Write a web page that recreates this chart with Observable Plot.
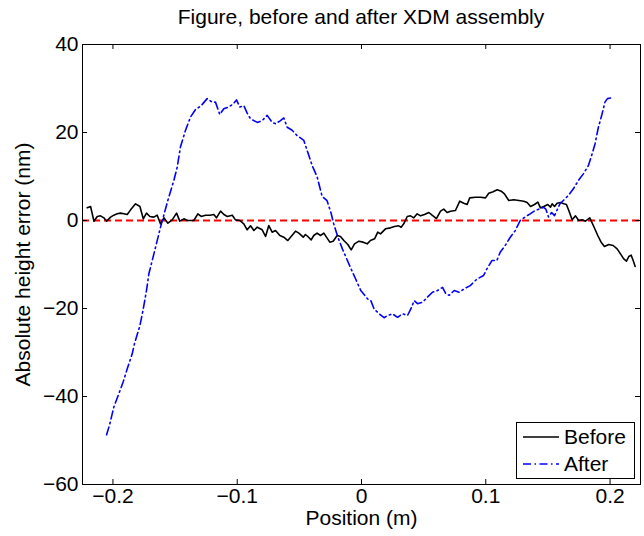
<!DOCTYPE html>
<html>
<head>
<meta charset="utf-8">
<script src="https://cdn.jsdelivr.net/npm/d3@7"></script>
<script src="https://cdn.jsdelivr.net/npm/@observablehq/plot@0.6"></script>
<style>
  body { margin: 0; background: #fff; font-family: "Liberation Sans", Arial, sans-serif; }
  #wrap { position: relative; width: 644px; height: 536px; }
  #title { height: 30px; width: 558px; margin-left: 82px; text-align: center; font-size: 21px; line-height: 34px; color: #000; }
  #legend { position: absolute; left: 516px; top: 422px; width: 117px; height: 55px; border: 1px solid #000; background: #fff; font-size: 21px; }
  #legend .row { position: absolute; left: 0; height: 26px; display: flex; align-items: center; }
  #legend svg { margin-left: 6px; margin-right: 5px; }
</style>
</head>
<body>
<div id="wrap">
  <div id="title">Figure, before and after XDM assembly</div>
  <div id="chart"></div>
  <div id="legend"></div>
</div>
<script>
const xTicks = [-0.2, -0.1, 0, 0.1, 0.2];
const yTicks = [-60, -40, -20, 0, 20, 40];
const seriesNames = ["Before", "After"];

const beforeX = [-0.2207,-0.2180,-0.2153,-0.2126,-0.2100,-0.2073,-0.2051,-0.2019,-0.1993,-0.1966,-0.1939,-0.1912,-0.1885,-0.1858,-0.1818,-0.1783,-0.1756,-0.1730,-0.1703,-0.1671,-0.1644,-0.1617,-0.1590,-0.1558,-0.1523,-0.1488,-0.1462,-0.1429,-0.1402,-0.1349,-0.1317,-0.1290,-0.1255,-0.1220,-0.1188,-0.1167,-0.1134,-0.1107,-0.1080,-0.1040,-0.1014,-0.0979,-0.0947,-0.0920,-0.0893,-0.0866,-0.0839,-0.0799,-0.0772,-0.0746,-0.0719,-0.0692,-0.0657,-0.0625,-0.0593,-0.0566,-0.0531,-0.0504,-0.0469,-0.0451,-0.0432,-0.0405,-0.0384,-0.0357,-0.0330,-0.0303,-0.0282,-0.0255,-0.0228,-0.0196,-0.0169,-0.0142,-0.0110,-0.0083,-0.0056,-0.0021,0.0013,0.0046,0.0072,0.0105,0.0131,0.0153,0.0193,0.0233,0.0265,0.0300,0.0319,0.0340,0.0368,0.0394,0.0421,0.0448,0.0475,0.0507,0.0542,0.0568,0.0603,0.0636,0.0662,0.0689,0.0716,0.0756,0.0791,0.0823,0.0850,0.0871,0.0917,0.0957,0.0998,0.1024,0.1059,0.1092,0.1124,0.1150,0.1185,0.1225,0.1266,0.1306,0.1333,0.1360,0.1392,0.1419,0.1440,0.1467,0.1499,0.1521,0.1534,0.1553,0.1574,0.1601,0.1628,0.1649,0.1668,0.1695,0.1722,0.1748,0.1775,0.1802,0.1837,0.1869,0.1901,0.1928,0.1955,0.1990,0.2025,0.2057,0.2084,0.2110,0.2132,0.2151,0.2170,0.2186,0.2202];
const beforeY = [2.9,3.18,-0.15,0.91,1.06,0.61,-0.15,0.76,1.21,1.52,1.67,1.52,1.36,2.42,3.79,3.18,0.38,1.67,0.91,0.76,1.21,-0.76,0.61,-0.61,0.15,1.67,-0.15,0.38,0,0,1.52,0.91,1.21,1.21,1.36,0.61,2.12,1.36,0.91,1.21,0.15,0,-0.76,-2.12,-1.21,-2.27,-1.52,-2.12,-3.64,-1.14,-2.65,-2.27,-3.41,-3.79,-4.55,-3.64,-2.42,-2.88,-3.79,-3.18,-3.64,-4.39,-3.41,-2.88,-3.41,-2.88,-3.79,-4.92,-4.70,-3.41,-3.64,-4.55,-5.45,-6.67,-5.30,-4.70,-4.92,-5.30,-4.55,-4.17,-2.65,-3.03,-1.89,-1.67,-1.36,-1.21,-1.52,-0.76,0.91,1.06,0.61,1.52,1.06,1.36,1.82,1.21,0.45,2.12,2.58,1.82,2.12,2.27,4.39,3.94,3.64,5.15,5.30,5.30,5.15,6.21,6.52,6.97,6.67,6.06,4.55,4.70,4.55,4.39,4.09,3.18,3.64,4.17,2.88,3.18,3.64,3.03,3.79,3.18,3.94,4.09,3.79,3.64,2.27,0.15,1.06,0,0.15,-0.15,0.61,-1.36,-3.41,-4.92,-5.91,-5.45,-5.68,-6.44,-7.58,-8.71,-9.24,-8.18,-7.88,-9.09,-10.45];

const afterX = [-0.2051,-0.2025,-0.1993,-0.1953,-0.1918,-0.1885,-0.1845,-0.1826,-0.1783,-0.1756,-0.1730,-0.1711,-0.1684,-0.1617,-0.1558,-0.1510,-0.1483,-0.1457,-0.1416,-0.1376,-0.1336,-0.1290,-0.1242,-0.1202,-0.1175,-0.1140,-0.1108,-0.1068,-0.1032,-0.1006,-0.0979,-0.0947,-0.0920,-0.0893,-0.0866,-0.0839,-0.0799,-0.0759,-0.0719,-0.0692,-0.0657,-0.0625,-0.0598,-0.0558,-0.0518,-0.0464,-0.0437,-0.0397,-0.0357,-0.0317,-0.0277,-0.0245,-0.0223,-0.0190,-0.0153,-0.0087,-0.0047,-0.0006,0.0048,0.0075,0.0101,0.0142,0.0182,0.0209,0.0249,0.0290,0.0330,0.0370,0.0397,0.0424,0.0451,0.0491,0.0531,0.0571,0.0612,0.0652,0.0679,0.0706,0.0746,0.0786,0.0827,0.0875,0.0929,0.0982,0.1009,0.1049,0.1089,0.1116,0.1156,0.1197,0.1237,0.1277,0.1317,0.1357,0.1398,0.1438,0.1465,0.1483,0.1505,0.1530,0.1553,0.1597,0.1665,0.1705,0.1745,0.1785,0.1826,0.1852,0.1879,0.1906,0.1933,0.1959,0.1979,0.2013];
const afterY = [-48.7,-46.2,-42.4,-39.4,-36.7,-33.7,-30.3,-27.9,-23.9,-20.1,-15.9,-12.1,-9.1,-1.5,4.6,9.1,12.1,16.7,20.5,23.5,25.2,26.1,27.7,26.9,26.9,24.1,25.4,25.8,26.5,27.4,25.8,26.1,24.4,23.1,22.7,22.3,22.7,23.9,22.3,22.0,22.6,23.3,21.2,20.5,19.3,18.2,15.9,12.5,9.9,5.5,4.5,1.7,-0.8,-3.8,-6.5,-10.8,-13.3,-15.9,-17.8,-18.2,-20.1,-21.2,-22.1,-21.6,-21.2,-22.0,-21.2,-21.6,-20.1,-18.2,-18.9,-18.6,-17.4,-16.3,-15.9,-15.2,-16.7,-17.0,-15.9,-16.3,-15.5,-14.8,-13.3,-12.5,-11.0,-9.1,-9.1,-7.2,-5.7,-3.8,-2.3,0,0.8,1.5,2.3,2.7,3.0,2.6,0.8,1.8,1.1,3.8,5.7,7.2,9.1,10.6,12.5,14.8,17.4,21.2,23.9,26.9,27.7,27.9];

const before = beforeX.map((x, i) => ({x, y: beforeY[i]}));
const after = afterX.map((x, i) => ({x, y: afterY[i]}));

const innerW = 558, innerH = 440, tickLen = 5;
const fmt = d => (d < 0 ? "\u2212" : "") + String(Math.abs(d));
const dashDot = "8,3.5,1.5,3.5";

const chart = Plot.plot({
  width: 644,
  height: 506,
  marginTop: 14,
  marginBottom: 52,
  marginLeft: 82,
  marginRight: 4,
  style: {fontFamily: "'Liberation Sans', Arial, sans-serif", fontSize: "21px", color: "#000", background: "#fff"},
  x: {domain: [-0.2245, 0.2245], ticks: xTicks},
  y: {domain: [-60, 40], ticks: yTicks},
  marks: [
    Plot.ruleY([0], {stroke: "#ff0000", strokeWidth: 1.8, strokeDasharray: "7,4"}),
    Plot.line(before, {x: "x", y: "y", stroke: "#000", strokeWidth: 1.6}),
    Plot.line(after, {x: "x", y: "y", stroke: "#0000ff", strokeWidth: 1.6, strokeDasharray: dashDot}),
    Plot.tickX(xTicks, {x: d => d, insetTop: innerH - tickLen, stroke: "#000"}),
    Plot.tickX(xTicks, {x: d => d, insetBottom: innerH - tickLen, stroke: "#000"}),
    Plot.tickY(yTicks, {y: d => d, insetRight: innerW - tickLen, stroke: "#000"}),
    Plot.tickY(yTicks, {y: d => d, insetLeft: innerW - tickLen, stroke: "#000"}),
    Plot.axisX(xTicks, {anchor: "bottom", tickSize: 0, tickPadding: 4, label: null, fontSize: 21, tickFormat: fmt}),
    Plot.axisY(yTicks, {anchor: "left", tickSize: 0, tickPadding: 4, label: null, fontSize: 21, tickFormat: fmt}),
    Plot.frame({stroke: "#000", strokeWidth: 1}),
    Plot.text(["Position (m)"], {frameAnchor: "bottom", dy: 40, fontSize: 21, fill: "#000", textAnchor: "middle"}),
    Plot.text(["Absolute height error (nm)"], {frameAnchor: "left", dx: -59, rotate: -90, fontSize: 21, fill: "#000", textAnchor: "middle"})
  ]
});
document.getElementById("chart").appendChild(chart);

// legend
const legend = document.getElementById("legend");
const styles = [
  {stroke: "#000", dash: null},
  {stroke: "#0000ff", dash: dashDot}
];
seriesNames.forEach((name, i) => {
  const row = document.createElement("div");
  row.className = "row";
  row.style.top = (1 + i * 27) + "px";
  const s = styles[i];
  row.innerHTML = `<svg width="36" height="10"><line x1="0" y1="5" x2="36" y2="5" stroke="${s.stroke}" stroke-width="1.6" ${s.dash ? `stroke-dasharray="${s.dash}"` : ""}/></svg><span>${name}</span>`;
  legend.appendChild(row);
});
</script>
</body>
</html>
